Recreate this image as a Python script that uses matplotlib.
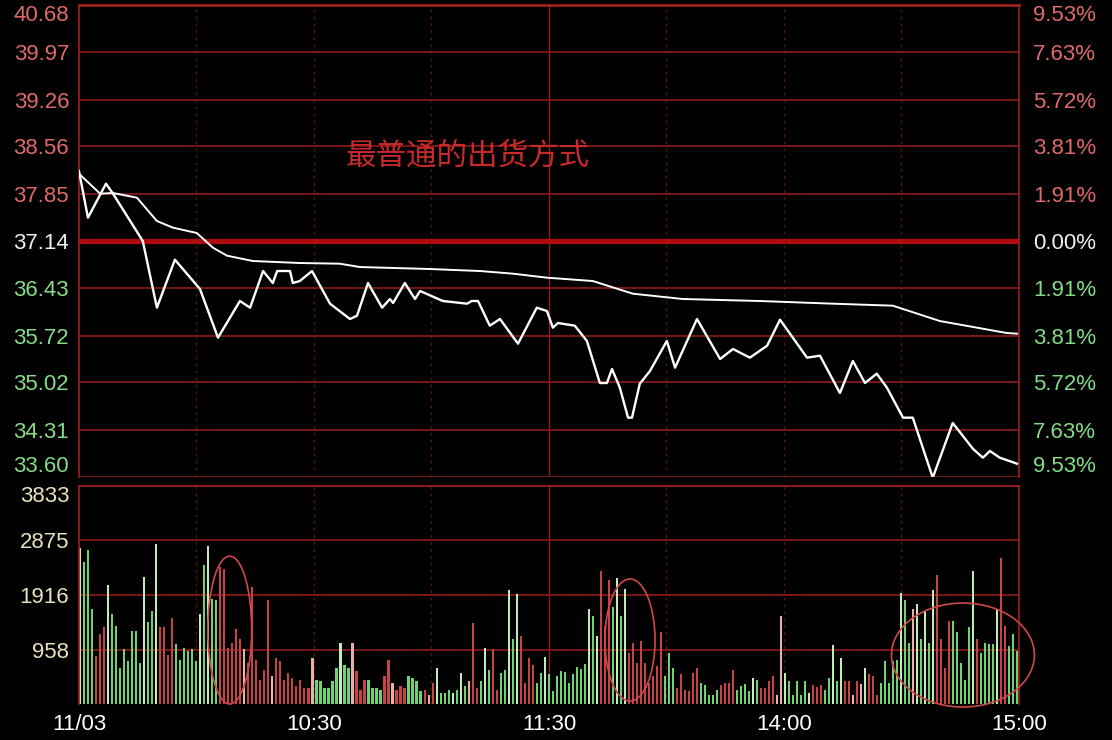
import numpy as np
import matplotlib
matplotlib.use("Agg")
import matplotlib.pyplot as plt
from matplotlib.patches import Ellipse

# ---------------- data ----------------
price_ticks = [40.68, 39.97, 39.26, 38.56, 37.85, 37.14, 36.43, 35.72, 35.02, 34.31, 33.60]
pct_labels = ["9.53%", "7.63%", "5.72%", "3.81%", "1.91%", "0.00%",
              "1.91%", "3.81%", "5.72%", "7.63%", "9.53%"]
prev_close = 37.14

price_t = [0, 2.3, 6.9, 8.7, 16.3, 19.9, 24.5, 30.9, 35.5, 41.1, 43.7, 47.0, 49.5, 50.6,
           53.9, 54.6, 56.4, 59.5, 64.1, 69.2, 71.0, 73.8, 77.4, 79.4, 80.2, 83.2, 85.8,
           87.1, 92.9, 99.1, 100.3, 101.9, 104.9, 107.5, 112.1, 116.9, 119.5, 121.0, 122.3,
           126.6, 129.7, 133.0, 134.8, 136.1, 138.1, 140.2, 141.2, 143.2, 145.8, 150.1,
           152.2, 157.8, 163.7, 167.0, 171.3, 175.7, 179.0, 185.9, 189.2, 194.3, 197.6,
           200.7, 203.7, 206.3, 210.4, 212.9, 218.0, 223.1, 228.3, 230.8, 232.6, 235.1, 239.5]
price_v = [38.19, 37.49, 38.00, 37.85, 37.14, 36.14, 36.86, 36.42, 35.69, 36.24, 36.14, 36.69,
           36.51, 36.69, 36.69, 36.51, 36.54, 36.69, 36.20, 35.97, 36.02, 36.51, 36.14, 36.27,
           36.21, 36.51, 36.27, 36.39, 36.24, 36.20, 36.24, 36.24, 35.87, 35.97, 35.60, 36.14,
           36.09, 35.84, 35.91, 35.87, 35.64, 35.01, 35.01, 35.22, 34.94, 34.49, 34.49, 35.00,
           35.19, 35.64, 35.24, 35.97, 35.37, 35.52, 35.39, 35.57, 35.96, 35.39, 35.42, 34.86,
           35.34, 35.01, 35.15, 34.94, 34.49, 34.49, 33.59, 34.41, 34.02, 33.89, 33.99, 33.89,
           33.80]

avg_t = [0, 5.4, 8.7, 14.8, 19.9, 24.0, 30.1, 34.2, 37.8, 44.4, 56.4, 66.6, 71.7, 89.6,
         102.4, 110.8, 119.5, 131.2, 141.4, 154.2, 173.9, 192.5, 207.8, 219.8, 229.3, 236.9, 239.5]
avg_v = [38.15, 37.85, 37.86, 37.79, 37.44, 37.34, 37.26, 37.04, 36.92, 36.84, 36.81, 36.80,
         36.75, 36.72, 36.69, 36.65, 36.59, 36.54, 36.35, 36.27, 36.24, 36.20, 36.17, 35.94,
         35.84, 35.76, 35.75]

vol_ticks = [958, 1916, 2875, 3833]
vol_max = 3833

volumes = [
    # 09:30 - ~10:40
    2740, 2500, 2710, 1670, 840, 1230, 1350, 2100, 1580, 1380,
    635, 960, 750, 1290, 1290, 720, 2240, 1440, 1640, 2810,
    1350, 1350, 870, 1520, 1050, 780, 990, 930, 960, 750,
    1580, 2440, 2770, 1850, 1820, 2410, 2380, 990, 1080, 1320,
    1140, 960, 720, 2060, 780, 430, 600, 1820, 490, 810,
    750, 430, 550, 460, 310, 430, 280, 280, 810, 430,
    400, 280, 280, 400, 635, 1080, 690, 635, 1080, 575,
    250, 430,
    # ~10:40 - ~13:50
    430, 280, 280, 250, 490, 780, 370, 250, 310, 280,
    500, 460, 400, 220, 250, 160, 370, 635, 190, 190,
    250, 190, 250, 550, 310, 400, 1420, 280, 400, 990,
    600, 960, 250, 550, 600, 2000, 1140, 1940, 1200, 370,
    810, 690, 370, 550, 820, 520, 220, 490, 575, 560,
    370, 520, 650, 620, 710, 1670, 1550, 1200, 2330, 1380,
    2180, 1700, 2210, 1540, 2030, 900, 1080, 720, 1110, 720,
    370, 490, 660, 1260, 490, 900, 635, 280, 520, 250,
    220, 550, 635, 370, 340, 160, 160, 250, 340, 370,
    # ~13:50 - 15:00
    370, 600, 250, 320, 360, 220, 460, 430, 280, 280,
    400, 500, 160, 1540, 550, 400, 160, 400, 160, 400,
    190, 340, 300, 340, 250, 460, 1030, 400, 810, 400,
    400, 160, 400, 360, 635, 520, 490, 160, 370, 750,
    370, 750, 780, 1960, 1820, 1080, 1670, 1760, 1140, 1640,
    1080, 2000, 2270, 1140, 635, 1460, 1460, 1260, 720, 430,
    1350, 2330, 1140, 900, 1080, 1050, 1050, 1670, 2560, 1380,
    1020, 1230, 930]

# g = green (down), r = red (up), capitals = the paler, brighter bars
vol_colors = "".join([
    "GgggrrrGgg", "ggggggGggG", "rrrrgggggg", "GgGggrrrrr", "rRrrrrrrRr",
    "rrrrrrrrRg", "gggggGggRr", "rr",
    "ggggrrRrrr", "ggggrRrGgg", "gGgGgRrrgG", "grrggGgGrr", "rrggGggggg",
    "gggggGgGrr", "rgGgGrrrrr", "rrrrgggrrr", "rrrgggggrr",
    "rrggggGgrr", "rrRRGggggg", "GrrrggGgGr", "rRrRGrrrgg", "gggGggRGgG",
    "gGrrrrgggg", "gGrggggGrr", "ggg",
])

xtick_pos = [0, 60, 120, 180, 240]
xtick_labels = ["11/03", "10:30", "11:30", "14:00", "15:00"]
title_text = "最普通的出货方式"

# ---------------- style ----------------
BG = "black"
GRID = "#861818"
COLS = {"g": "#6fd46f", "G": "#c0ecb8", "r": "#c84444", "R": "#e8b0a8"}

fig = plt.figure(figsize=(11.12, 7.40), dpi=100, facecolor=BG)
ax = fig.add_axes([0.0710, 0.3554, 0.8453, 0.6378], facecolor=BG)
axv = fig.add_axes([0.0710, 0.04865, 0.8453, 0.2946], facecolor=BG)

for a in (ax, axv):
    a.set_xlim(0, 240)
    for s in a.spines.values():
        s.set_color("#a02020")
        s.set_linewidth(1.2)
    a.spines["bottom"].set_visible(False)
    for xv in [30, 60, 90, 150, 180, 210]:
        a.axvline(xv, color="#5e1212", lw=1.0, ls=(0, (2, 3)), zorder=1)
    a.axvline(120, color="#8a2222", lw=1.0, zorder=1)

# price panel
ax.set_ylim(price_ticks[-1], price_ticks[0])
for v in price_ticks:
    if v == prev_close:
        ax.axhline(v, color="#b00c0c", lw=3.8, zorder=1)
    else:
        ax.axhline(v, color=GRID, lw=1.3, zorder=1)
ax.spines["top"].set_linewidth(2.0)

ax.plot(avg_t, avg_v, color="white", lw=1.4, zorder=3)
ax.plot(price_t, price_v, color="white", lw=1.7, zorder=4)

lab_font = dict(fontsize=16, family="Liberation Sans")
ax.set_yticks(price_ticks)
ax.set_yticklabels(["%.2f" % v for v in price_ticks], **lab_font)
ax.tick_params(axis="y", length=0, pad=7)
ax.tick_params(axis="x", length=0, labelbottom=False)

axr = ax.twinx()
axr.set_ylim(price_ticks[-1], price_ticks[0])
axr.set_yticks(price_ticks)
axr.set_yticklabels(pct_labels, **lab_font)
axr.tick_params(axis="y", length=0, pad=10)
for s in axr.spines.values():
    s.set_visible(False)

def lab_color(v):
    if v > prev_close:
        return "#e06a6a"
    if v < prev_close:
        return "#86dc86"
    return "#f0f0f0"

n = len(price_ticks)
for labs in (ax.get_yticklabels(), axr.get_yticklabels()):
    for i, (lab, v) in enumerate(zip(labs, price_ticks)):
        lab.set_color(lab_color(v))
        if i == 0:
            lab.set_va("top")
        elif i == n - 1:
            lab.set_va("bottom")

ax.text(68, 38.42, title_text, color="#c82a2a", fontsize=22, ha="left", va="center",
        family=["Noto Sans CJK SC", "DejaVu Sans"], zorder=5)

# volume panel
axv.set_ylim(0, vol_max)
for v in vol_ticks:
    axv.axhline(v, color=GRID, lw=1.3, zorder=1)
N = len(volumes)
pos = np.linspace(0.3, 239.6, N)
cols = [COLS[vol_colors[i]] if i < len(vol_colors) else COLS["g"] for i in range(N)]
axv.bar(pos, volumes, width=0.55, color=cols, zorder=2, linewidth=0)

axv.set_yticks(vol_ticks)
axv.set_yticklabels([str(v) for v in vol_ticks], color="#e8e2bc", **lab_font)
axv.get_yticklabels()[-1].set_va("top")
axv.tick_params(axis="y", length=0, pad=7)
axv.set_xticks(xtick_pos)
axv.set_xticklabels(xtick_labels, color="white", fontsize=16, family="Liberation Sans")
axv.tick_params(axis="x", length=0, pad=7)

for (cx, cy, w, h) in [(38.5, 1300, 11.2, 2600), (140.7, 1125, 12.8, 2145),
                       (225.7, 861, 36.5, 1828)]:
    e = Ellipse((cx, cy), w, h, fill=False, edgecolor="#d04848", lw=1.2,
                zorder=5, clip_on=False)
    axv.add_patch(e)

fig.savefig("out.png", dpi=100, facecolor=BG)
